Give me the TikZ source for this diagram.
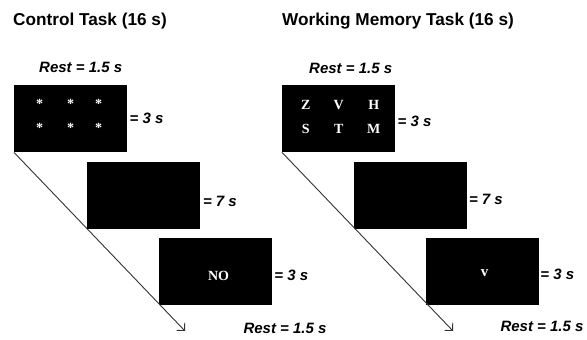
\documentclass[tikz,border=0pt]{standalone}
\usepackage{fontspec}
\setmainfont{Liberation Sans}
\newfontfamily\stimfont{Liberation Serif}
\usetikzlibrary{arrows.meta,positioning}

\begin{document}
\begin{tikzpicture}[x=1pt,y=1pt,
  screen/.style={fill=black,minimum width=113pt,minimum height=67pt,inner sep=0pt},
  dur/.style={font=\fontsize{15}{15}\selectfont\bfseries\itshape,inner sep=0pt},
  head/.style={font=\fontsize{17.2}{18}\selectfont\bfseries,anchor=west,inner sep=0pt},
  stim/.style={text=white,font=\stimfont\fontsize{14}{14}\selectfont\bfseries,inner sep=0pt},
  flow/.style={draw=black!80,line width=0.9pt,-{Straight Barb[angle=90:8pt]}}]
\useasboundingbox (0,0) rectangle (587,-340);

% control task
\node[head] (ct) at (13,-21) {Control Task (16 s)};
\node[screen,anchor=north west] (c_1) at (14,-85) {};
\node[screen,below right=9pt and -41pt of c_1] (c_2) {};
\node[screen,below right=9pt and -41pt of c_2] (c_3) {};
\foreach \dx in {-31,0,28}
  \foreach \dy in {14.5,-9.5}
    \node[stim] at ([shift={(\dx,\dy)}]c_1.center) {*};
\node[stim] (no) at ([shift={(3,-4)}]c_3.center) {NO};
\node[dur,above=12pt of c_1.north,xshift=10pt] (cr_1) {Rest = 1.5 s};
\node[dur,right=2pt of c_1.east] (cd_1) {= 3 s};
\node[dur,right=3pt of c_2.east,yshift=-6pt] (cd_2) {= 7 s};
\node[dur,right=2pt of c_3.east,yshift=-4pt] (cd_3) {= 3 s};
\node[dur] (cr_2) at (285,-328) {Rest = 1.5 s};
\coordinate (ce) at (185,-331);
\draw[flow] (c_1.south west) -- (ce);

% working memory task
\node[head] (wt) at (282,-21) {Working Memory Task (16 s)};
\node[screen,anchor=north west] (w_1) at (282,-85) {};
\node[screen,below right=9pt and -42pt of w_1] (w_2) {};
\node[screen,below right=9pt and -41pt of w_2] (w_3) {};
\foreach \l/\dx/\dy in {Z/-33/13.5,V/0/13.5,H/35/13.5,S/-33/-10,T/0/-10,M/35/-10}
  \node[stim] at ([shift={(\dx,\dy)}]w_1.center) {\l};
\node[stim,font=\stimfont\fontsize{15}{15}\selectfont\bfseries] (probe) at ([shift={(2,-2)}]w_3.center) {v};
\node[dur,above=11pt of w_1.north,xshift=12pt] (wr_1) {Rest = 1.5 s};
\node[dur,right=2pt of w_1.east,yshift=-2.5pt] (wd_1) {= 3 s};
\node[dur,right=2pt of w_2.east,yshift=-4.5pt] (wd_2) {= 7 s};
\node[dur,right=1pt of w_3.east,yshift=-2.5pt] (wd_3) {= 3 s};
\node[dur] (wr_2) at (542,-326) {Rest = 1.5 s};
\coordinate (we) at (453,-331);
\draw[flow] (w_1.south west) -- (we);
\end{tikzpicture}
\end{document}
